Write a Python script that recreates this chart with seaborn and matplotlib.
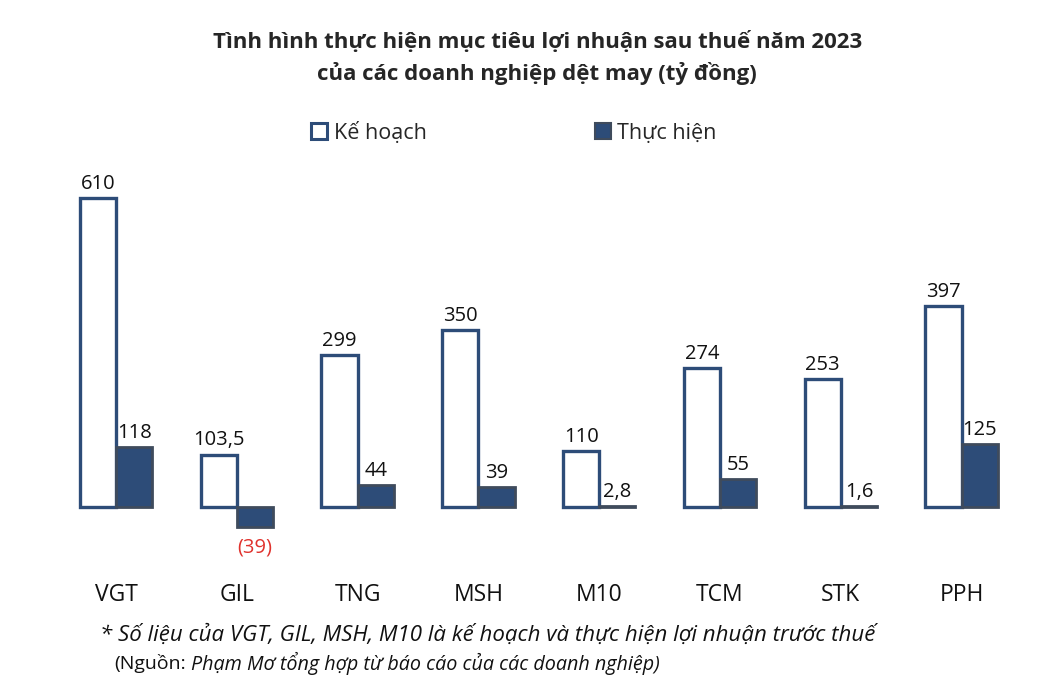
import pandas as pd
import seaborn as sns
import matplotlib.pyplot as plt
from matplotlib.patches import Patch

companies = ['VGT', 'GIL', 'TNG', 'MSH', 'M10', 'TCM', 'STK', 'PPH']
ke_hoach = [610, 103.5, 299, 350, 110, 274, 253, 397]
thuc_hien = [118, -39, 44, 39, 2.8, 55, 1.6, 125]
series = ['Kế hoạch', 'Thực hiện']

df = pd.DataFrame({
    'cong_ty': companies * 2,
    'loai': [series[0]] * len(companies) + [series[1]] * len(companies),
    'gia_tri': ke_hoach + thuc_hien,
})


def fmt(v):
    if v < 0:
        return f'({fmt(-v)})'
    s = f'{v:g}'
    return s.replace('.', ',')


sns.set_style('white')
plt.rcParams['font.family'] = ['Open Sans', 'DejaVu Sans']

fig = plt.figure(figsize=(10.62, 6.85), dpi=100)
ax = fig.add_axes([0.0524, 0.2263, 0.9099, 0.5255])

navy = '#2d4c78'
sns.barplot(data=df, x='cong_ty', y='gia_tri', hue='loai', order=companies,
            hue_order=series, palette=['white', navy], width=0.6,
            legend=False, ax=ax)

# style the two series like the original (outline vs filled)
for bar in ax.containers[0]:
    bar.set_facecolor('white')
    bar.set_edgecolor(navy)
    bar.set_linewidth(2.4)
for bar in ax.containers[1]:
    bar.set_facecolor(navy)
    bar.set_edgecolor('#3f4b5c')
    bar.set_linewidth(2.0)

for cont, vals in zip(ax.containers, [ke_hoach, thuc_hien]):
    for bar, v in zip(cont, vals):
        x = bar.get_x() + bar.get_width() / 2
        if v >= 0:
            ax.text(x, v + 8, fmt(v), ha='center', va='bottom', fontsize=14.5, color='#111111')
        else:
            ax.text(x, v - 22, fmt(v), ha='center', va='top', fontsize=14.5, color='#e0322d')

ax.set_xlim(-0.5, 7.5)
ax.set_ylim(-45.4, 665)
ax.set_xlabel('')
ax.set_ylabel('')
ax.set_yticks([])
sns.despine(ax=ax, left=True, bottom=True)
ax.tick_params(axis='x', length=0, pad=38, labelsize=16.5, labelcolor='#111111')

# legend
handles = [Patch(facecolor='white', edgecolor=navy, linewidth=2.2),
           Patch(facecolor=navy, edgecolor='#3f4b5c', linewidth=1.5)]
fig.legend(handles, series, loc='center', bbox_to_anchor=(0.484, 0.806), ncol=2,
           frameon=False, fontsize=15.5, handlelength=0.75, handleheight=0.75,
           handletextpad=0.3, columnspacing=7.8)

fig.text(0.506, 0.939, 'Tình hình thực hiện mục tiêu lợi nhuận sau thuế năm 2023',
         ha='center', va='center', fontsize=16, fontweight='bold')
fig.text(0.506, 0.893, 'của các doanh nghiệp dệt may (tỷ đồng)',
         ha='center', va='center', fontsize=16, fontweight='bold')

fig.text(0.094, 0.072, '* Số liệu của VGT, GIL, MSH, M10 là kế hoạch và thực hiện lợi nhuận trước thuế',
         ha='left', va='center', fontsize=16, style='italic', color='#111111')
fig.text(0.108, 0.032, '(Nguồn:', ha='left', va='center', fontsize=14, color='#111111')
fig.text(0.180, 0.032, 'Phạm Mơ tổng hợp từ báo cáo của các doanh nghiệp)',
         ha='left', va='center', fontsize=14.2, style='italic', color='#111111')

fig.savefig('out.png', dpi=100)
